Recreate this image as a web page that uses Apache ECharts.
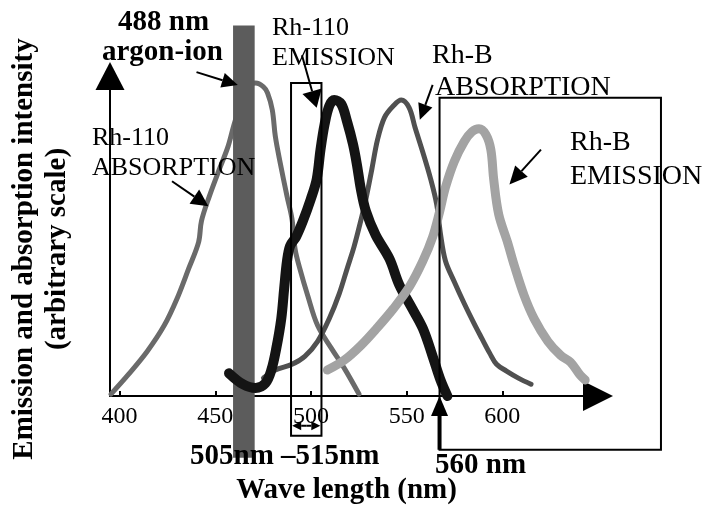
<!DOCTYPE html>
<html><head><meta charset="utf-8">
<script src="https://cdn.jsdelivr.net/npm/echarts@6/dist/echarts.min.js"></script>
<style>html,body{margin:0;padding:0;background:#fff}#c{width:708px;height:510px}</style>
</head><body><div id="c"></div>
<script>
// ---- data (wavelength nm, arbitrary intensity) ----
const tickLabels = [400, 450, 500, 550, 600];
const rh110Absorption = [[395.5,0.6],[404.3,6.5],[414.5,14.0],[423.3,22.0],[430.0,30.4],[436.1,39.8],[441.3,48.1],[442.8,54.7],[446.9,62.4],[452.1,70.8],[456.7,78.0],[459.8,84.8],[463.9,92.5],[467.0,96.9],[471.1,97.8],[475.2,96.6],[477.3,94.7],[479.8,89.4],[481.4,81.1],[483.9,73.0],[487.5,62.4],[490.1,55.3],[491.7,46.0],[494.2,39.8],[498.3,31.4],[503.5,22.0],[510.7,14.9],[517.4,8.7],[525.1,0.6]];
const rh110Emission = [[457.2,7.1],[464.4,3.7],[471.1,2.5],[476.2,4.0],[479.3,8.1],[481.9,14.9],[484.5,24.2],[486.0,33.5],[487.5,42.2],[489.1,46.9],[492.2,49.7],[495.8,54.7],[499.9,61.5],[503.0,67.7],[505.0,77.0],[507.1,84.8],[509.6,90.7],[512.2,92.5],[515.8,91.3],[518.9,85.7],[522.0,78.6],[524.0,72.4],[526.1,64.6],[528.7,57.8],[533.8,50.3],[541.0,42.9],[546.1,34.8],[552.3,28.0],[558.5,21.1],[563.6,12.4],[567.7,5.0],[571.3,0]];
const rhBAbsorption = [[475.2,5.6],[481.4,8.1],[490.1,9.9],[496.8,12.4],[503.5,17.1],[509.6,24.2],[514.8,32.0],[518.9,39.8],[522.5,46.6],[525.6,53.7],[528.7,61.5],[531.8,70.8],[534.8,80.1],[538.4,87.0],[543.1,90.7],[547.2,92.5],[551.3,90.1],[554.4,83.9],[558.5,76.1],[562.6,67.7],[565.7,59.9],[567.7,50.6],[570.3,42.2],[574.9,35.7],[580.1,28.9],[585.2,22.7],[589.3,18.0],[593.4,13.4],[597.0,9.9],[602.2,7.8],[608.4,5.6],[615.0,3.7]];
const rhBEmission = [[508.6,8.1],[517.4,11.2],[526.1,15.8],[534.3,21.1],[543.1,27.3],[551.8,34.5],[558.5,42.2],[563.6,49.7],[567.2,57.5],[570.3,65.2],[574.9,73.3],[580.1,79.5],[584.2,82.6],[587.8,83.5],[591.4,81.7],[594.0,77.0],[595.5,67.7],[598.1,56.8],[602.7,48.1],[606.3,40.7],[611.4,31.4],[616.6,24.2],[623.8,17.1],[630.5,12.7],[635.6,10.6],[640.7,6.5],[643.3,5.0]];
// marked regions
const argonBandX = [459.3, 470.6];
const argonBandY = [115.8, -19.3];
const filterBoxX = [489.6, 505.5];
const filterBoxY = [97.8, -12.4];
const rhBBoxX = [567.2, 682.9];
const rhBBoxY = [93.2, -16.8];

const SERIF = '"Liberation Serif","Times New Roman",serif';
const chart = echarts.init(document.getElementById('c'), null, {renderer: 'canvas'});

function lineSeries(name, data, color, width, z) {
  return {name, type: 'line', data, smooth: 0.35, showSymbol: false, symbol: 'none', z,
    lineStyle: {color, width, cap: 'round', join: 'round'}, emphasis: {disabled: true}};
}

chart.setOption({
  animation: false,
  backgroundColor: '#fff',
  grid: {left: 102, right: 110, top: 76, bottom: 112},
  xAxis: {
    type: 'value', min: 395, max: 650,
    name: 'Wave length (nm)', nameLocation: 'middle', nameGap: 80,
    nameTextStyle: {fontFamily: SERIF, fontWeight: 'bold', fontSize: 29, color: '#000', padding: [0, 15, 0, 0]},
    axisLine: {show: true, onZero: false, lineStyle: {color: '#000', width: 2}, symbol: ['none', 'triangle'], symbolSize: [30, 30]},
    axisTick: {show: true, inside: true, length: 5, lineStyle: {color: '#000', width: 2}, customValues: tickLabels},
    axisLabel: {customValues: tickLabels, margin: 9, fontFamily: SERIF, fontSize: 24, color: '#000'},
    splitLine: {show: false}
  },
  yAxis: {
    type: 'value', min: 0, max: 100,
    name: 'Emission and absorption intensity\n(arbitrary scale)', nameLocation: 'middle', nameGap: 36, nameRotate: 90,
    nameTextStyle: {fontFamily: SERIF, fontWeight: 'bold', fontSize: 29, lineHeight: 33, color: '#000', padding: [0, 26, 0, 0]},
    axisLine: {show: true, onZero: false, lineStyle: {color: '#000', width: 2}, symbol: ['none', 'triangle'], symbolSize: [29, 28]},
    axisTick: {show: false}, axisLabel: {show: false}, splitLine: {show: false}
  },
  series: [
    lineSeries('Rh-110 absorption', rh110Absorption, '#6a6a6a', 5, 2),
    lineSeries('Rh-B absorption', rhBAbsorption, '#505050', 5, 2),
    lineSeries('Rh-110 emission', rh110Emission, '#141414', 10, 4),
    lineSeries('Rh-B emission', rhBEmission, '#a3a3a3', 9, 5)
  ]
});

const P = (x, y) => chart.convertToPixel({gridIndex: 0}, [x, y]);
const els = [];
function seg(a, b, w, z) {
  els.push({type: 'line', z: z || 10, shape: {x1: a[0], y1: a[1], x2: b[0], y2: b[1]}, style: {stroke: '#000', lineWidth: w}});
}
function arrowPx(a, b, headLen, headW, lw) {
  const dx = b[0] - a[0], dy = b[1] - a[1], L = Math.hypot(dx, dy), ux = dx / L, uy = dy / L;
  const bx = b[0] - ux * headLen, by = b[1] - uy * headLen, nx = -uy, ny = ux;
  if (L > headLen) seg(a, [bx, by], lw);
  els.push({type: 'polygon', z: 10, shape: {points: [[b[0], b[1]], [bx + nx * headW / 2, by + ny * headW / 2], [bx - nx * headW / 2, by - ny * headW / 2]]}, style: {fill: '#000'}});
}
function arrow(from, to, headLen, headW, lw) { arrowPx(P(from[0], from[1]), P(to[0], to[1]), headLen, headW, lw); }

// 488 nm argon-ion band
const b1 = P(argonBandX[0], argonBandY[0]), b2 = P(argonBandX[1], argonBandY[1]);
els.push({type: 'rect', z: 3, shape: {x: b1[0], y: b1[1], width: b2[0] - b1[0], height: b2[1] - b1[1]}, style: {fill: '#5c5c5c'}});
// 505-515 nm filter box
const f1 = P(filterBoxX[0], filterBoxY[0]), f2 = P(filterBoxX[1], filterBoxY[1]);
els.push({type: 'rect', z: 9, shape: {x: f1[0], y: f1[1], width: f2[0] - f1[0], height: f2[1] - f1[1]}, style: {fill: 'none', stroke: '#000', lineWidth: 2}});
// double arrow inside the filter box
const fmid = (filterBoxX[0] + filterBoxX[1]) / 2;
arrow([fmid, -9.3], [filterBoxX[0] + 0.6, -9.3], 9, 9, 2);
arrow([fmid, -9.3], [filterBoxX[1] - 0.6, -9.3], 9, 9, 2);
// 560 nm box
const r1 = P(rhBBoxX[0], rhBBoxY[0]), r2 = P(rhBBoxX[1], rhBBoxY[1]);
els.push({type: 'rect', z: 9, shape: {x: r1[0], y: r1[1], width: r2[0] - r1[0], height: r2[1] - r1[1]}, style: {fill: 'none', stroke: '#000', lineWidth: 2}});
arrow([rhBBoxX[0], rhBBoxY[1]], [rhBBoxX[0], 0], 20, 17, 4);

// annotation arrows
arrow([440.2, 101.2], [461.8, 97.2], 16, 15, 2);   // argon-ion
arrow([495.3, 106.5], [503.0, 90.1], 17, 20, 2);   // Rh-110 emission
arrow([427.4, 67.1], [446.4, 59.3], 17, 17, 2);    // Rh-110 absorption
arrow([563.6, 97.2], [556.9, 86.3], 16, 15, 2);    // Rh-B absorption
arrow([620.2, 77.0], [603.7, 66.1], 18, 17, 2);    // Rh-B emission

function txt(s, x, y, size, bold) {
  els.push({type: 'text', z: 12, x, y, style: {text: s, fontFamily: SERIF, fontSize: size, fontWeight: bold ? 'bold' : 'normal', fill: '#000', align: 'left', verticalAlign: 'middle'}});
}
txt('488 nm', 118, 23, 29, true);
txt('argon-ion', 102, 53, 29, true);
txt('Rh-110', 272, 28, 26);
txt('EMISSION', 272, 58, 26);
txt('Rh-110', 92, 138, 26);
txt('ABSORPTION', 92, 168, 26);
txt('Rh-B', 432, 56, 28);
txt('ABSORPTION', 435, 88, 28);
txt('Rh-B', 570, 143, 28);
txt('EMISSION', 570, 177, 28);
txt('505nm \u2013515nm', 190, 457, 29, true);
txt('560 nm', 435, 466, 29, true);

chart.setOption({graphic: {elements: els}});
</script></body></html>
